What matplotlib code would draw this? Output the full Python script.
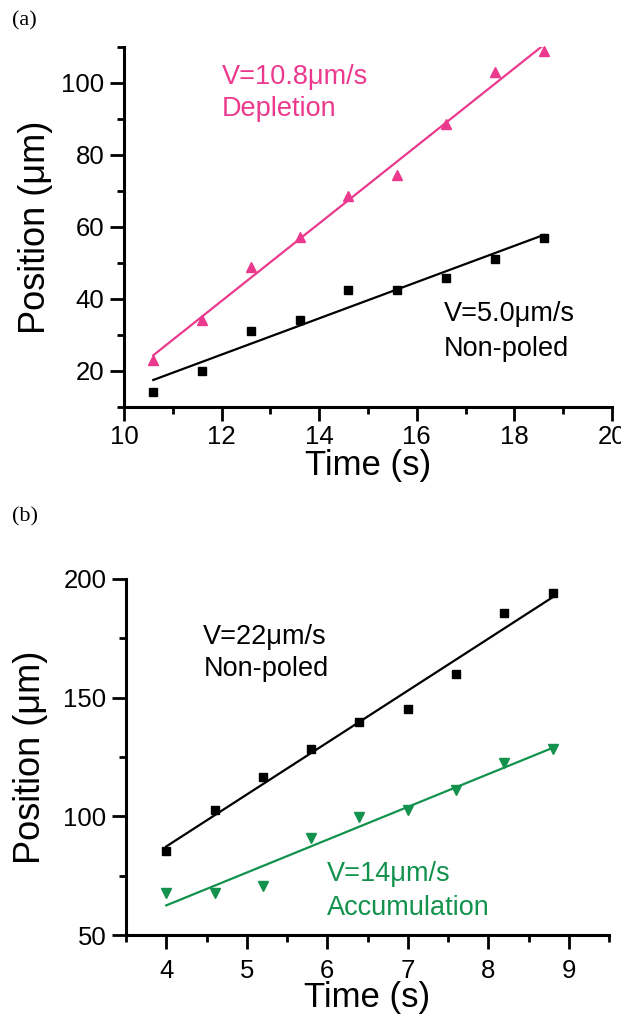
import numpy as np
import matplotlib
matplotlib.use("Agg")
import matplotlib.pyplot as plt
from matplotlib.ticker import MultipleLocator

plt.rcParams['font.family'] = ['Liberation Sans', 'DejaVu Sans']

# Panel (a): particle position vs time
time_a = [10.6, 11.6, 12.6, 13.6, 14.6, 15.6, 16.6, 17.6, 18.6]
pos_a_nonpoled = [14.2, 20.0, 31.2, 34.3, 42.6, 42.6, 45.7, 51.2, 57.0]
pos_a_depletion = [23.1, 34.3, 48.9, 57.1, 68.6, 74.5, 88.6, 103.1, 108.9]
labels_a_depletion = ["V=10.8\u03bcm/s", "Depletion"]
labels_a_nonpoled = ["V=5.0\u03bcm/s", "Non-poled"]

# Panel (b)
time_b = [4.0, 4.6, 5.2, 5.8, 6.4, 7.0, 7.6, 8.2, 8.8]
pos_b_nonpoled = [85.4, 102.7, 116.7, 128.5, 139.9, 145.4, 159.8, 185.8, 194.2]
pos_b_accum = [67.8, 67.8, 70.6, 91.0, 99.6, 102.7, 111.1, 122.3, 128.2]
labels_b_nonpoled = ["V=22\u03bcm/s", "Non-poled"]
labels_b_accum = ["V=14\u03bcm/s", "Accumulation"]

PINK = '#EB3A8E'
GREEN = '#12924C'
BLACK = '#000000'

fig = plt.figure(figsize=(6.21, 10.19), dpi=100)
ax_a = fig.add_axes([0.1997, 0.6006, 0.7858, 0.3533])
ax_b = fig.add_axes([0.2029, 0.0824, 0.7778, 0.3494])


def style_axes(ax, xpad, xlabelpad, ylabelpad):
    for side in ('top', 'right'):
        ax.spines[side].set_visible(False)
    for side in ('left', 'bottom'):
        ax.spines[side].set_linewidth(2.2)
    ax.tick_params(which='major', direction='out', length=10, width=2,
                   labelsize=18.5, pad=4)
    ax.tick_params(axis='x', which='major', pad=xpad)
    ax.tick_params(which='minor', direction='out', length=5, width=2)
    ax.set_xlabel("Time (s)", fontsize=25, labelpad=xlabelpad)
    ax.set_ylabel("Position (\u03bcm)", fontsize=26, labelpad=ylabelpad)


def series(ax, x, y, color, marker, ms):
    ax.plot(x, y, linestyle='none', marker=marker, color=color,
            markersize=ms, zorder=3, clip_on=False)
    k, b = np.polyfit(x, y, 1)
    xs = np.array([x[0], x[-1]])
    ax.plot(xs, k * xs + b, color=color, linewidth=1.6, zorder=2)


def two_lines(ax, x, y_top, y_bottom, lines, color):
    ax.text(x, y_top, lines[0], color=color, fontsize=19.5, va='center', ha='left')
    ax.text(x, y_bottom, lines[1], color=color, fontsize=19.5, va='center', ha='left')


# ---- (a)
style_axes(ax_a, xpad=3, xlabelpad=0, ylabelpad=6)
ax_a.set_xlim(10, 20)
ax_a.set_ylim(10, 110)
ax_a.xaxis.set_major_locator(MultipleLocator(2))
ax_a.xaxis.set_minor_locator(MultipleLocator(1))
ax_a.set_yticks([20, 40, 60, 80, 100])
ax_a.yaxis.set_minor_locator(MultipleLocator(10))
series(ax_a, time_a, pos_a_nonpoled, BLACK, 's', 5.3)
series(ax_a, time_a, pos_a_depletion, PINK, '^', 6.5)
two_lines(ax_a, 12.0, 101.7, 92.7, labels_a_depletion, PINK)
two_lines(ax_a, 16.56, 35.9, 26.2, labels_a_nonpoled, BLACK)

# ---- (b)
style_axes(ax_b, xpad=7, xlabelpad=-1, ylabelpad=11)
ax_b.set_xlim(3.5, 9.5)
ax_b.set_ylim(50, 200)
ax_b.set_xticks([4, 5, 6, 7, 8, 9])
ax_b.xaxis.set_minor_locator(MultipleLocator(0.5))
ax_b.set_yticks([50, 100, 150, 200])
ax_b.yaxis.set_minor_locator(MultipleLocator(25))
series(ax_b, time_b, pos_b_nonpoled, BLACK, 's', 5.3)
series(ax_b, time_b, pos_b_accum, GREEN, 'v', 6.5)
two_lines(ax_b, 4.46, 175.6, 162.0, labels_b_nonpoled, BLACK)
two_lines(ax_b, 6.0, 75.7, 61.4, labels_b_accum, GREEN)

fig.text(12 / 621, 1 - 21 / 1019, "(a)", fontsize=16, family='Liberation Serif',
         va='center', ha='left')
fig.text(12 / 621, 1 - 517 / 1019, "(b)", fontsize=16, family='Liberation Serif',
         va='center', ha='left')

fig.savefig("out.png", dpi=100)
